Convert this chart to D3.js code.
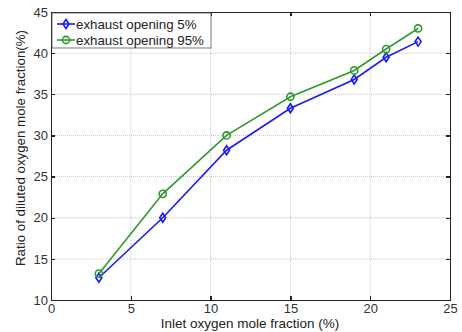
<!DOCTYPE html>
<html>
<head>
<meta charset="utf-8">
<script src="https://cdn.jsdelivr.net/npm/d3@7"></script>
<style>
  body { margin: 0; background: #fff; }
  text { font-family: "Liberation Sans", Arial, Helvetica, sans-serif; }
</style>
</head>
<body>
<svg id="chart"></svg>
<script>

var inletO2 = [3, 7, 11, 15, 19, 21, 23];
var opening5 = [12.7, 20.0, 28.2, 33.3, 36.8, 39.5, 41.4];
var opening95 = [13.2, 22.9, 30.0, 34.7, 37.9, 40.5, 43.0];
var seriesNames = ["exhaust opening 5%", "exhaust opening 95%"];
var xTicks = [0, 5, 10, 15, 20, 25];
var yTicks = [10, 15, 20, 25, 30, 35, 40, 45];

var width = 462,
	height = 332,
	margin = {top: 12, right: 12, bottom: 32, left: 51};

var svg = d3.select("#chart")
	.attr("width", width)
	.attr("height", height)

var w = width - margin.left - margin.right,
	h = height - margin.top - margin.bottom;

var x = d3.scaleLinear().domain([0, 25]).range([0, w]);
var y = d3.scaleLinear().domain([10, 45]).range([h, 0]);

var g = svg.append("g")
	.attr("transform", "translate(" + margin.left + "," + margin.top + ")");

// grid, dotted like matlab
g.selectAll("line.vgrid")
	.data(xTicks.slice(1, -1))
	.enter().append("line")
	.attr("class", "vgrid")
	.attr("x1", function(d) { return x(d); })
	.attr("x2", function(d) { return x(d); })
	.attr("y1", 0)
	.attr("y2", h)
	.style("stroke", "#c8c8c8")
	.style("stroke-width", 1)
	.style("stroke-dasharray", "1,1")

g.selectAll("line.hgrid")
	.data(yTicks.slice(1, -1))
	.enter().append("line")
	.attr("class", "hgrid")
	.attr("x1", 0)
	.attr("x2", w)
	.attr("y1", function(d) { return y(d); })
	.attr("y2", function(d) { return y(d); })
	.style("stroke", "#c8c8c8")
	.style("stroke-width", 1)
	.style("stroke-dasharray", "1,1")

// axes with inward ticks on all four sides
var xAxis = d3.axisBottom(x).tickValues(xTicks).tickSizeInner(-4).tickSizeOuter(0).tickPadding(4);
var yAxis = d3.axisLeft(y).tickValues(yTicks).tickSizeInner(-4).tickSizeOuter(0).tickPadding(3);

g.append("g")
	.attr("class", "axis")
	.attr("transform", "translate(0," + h + ")")
	.call(xAxis);

g.append("g")
	.attr("class", "axis")
	.call(yAxis);

g.append("g")
	.attr("class", "axis")
	.call(d3.axisTop(x).tickValues(xTicks).tickSizeInner(-4).tickSizeOuter(0).tickFormat(""));

g.append("g")
	.attr("class", "axis")
	.attr("transform", "translate(" + w + ",0)")
	.call(d3.axisRight(y).tickValues(yTicks).tickSizeInner(-4).tickSizeOuter(0).tickFormat(""));

g.selectAll(".axis path, .axis line")
	.style("stroke", "#222")
	.style("stroke-width", 1.3)
	.style("shape-rendering", "crispEdges")

g.selectAll(".axis text")
	.style("font-size", "13px")
	.style("fill", "#333")
	.style("font-family", "'Liberation Sans', Arial, Helvetica")

// series
var series = [
	{name: seriesNames[0], values: opening5, color: "#1a1aff", marker: "diamond"},
	{name: seriesNames[1], values: opening95, color: "#2f9a2f", marker: "circle"}
];

var line = d3.line()
	.x(function(d) { return x(d[0]); })
	.y(function(d) { return y(d[1]); });

function drawMarker(sel, s, cx, cy) {
	if (s.marker == "circle") {
		sel.append("circle")
			.attr("cx", cx)
			.attr("cy", cy)
			.attr("r", 3.6)
			.style("fill", "none")
			.style("stroke", s.color)
			.style("stroke-width", 1.6)
	} else {
		sel.append("path")
			.attr("d", "M" + cx + "," + (cy - 4.5) + "L" + (cx + 3) + "," + cy + "L" + cx + "," + (cy + 4.5) + "L" + (cx - 3) + "," + cy + "Z")
			.style("fill", "none")
			.style("stroke", s.color)
			.style("stroke-width", 1.6)
	}
}

series.forEach(function(s) {
	var pts = inletO2.map(function(v, i) { return [v, s.values[i]]; });
	g.append("path")
		.attr("d", line(pts))
		.style("fill", "none")
		.style("stroke", s.color)
		.style("stroke-width", 1.6)
	pts.forEach(function(p) {
		drawMarker(g, s, x(p[0]), y(p[1]));
	})
})

// legend
var legend = g.append("g").attr("transform", "translate(1,1)");

legend.append("rect")
	.attr("width", 159)
	.attr("height", 35)
	.style("fill", "#fff")
	.style("stroke", "#555")
	.style("stroke-width", 0.8)

series.forEach(function(s, i) {
	var ly = 11 + i * 16;
	legend.append("line")
		.attr("x1", 5)
		.attr("x2", 23)
		.attr("y1", ly)
		.attr("y2", ly)
		.style("stroke", s.color)
		.style("stroke-width", 1.6)
	drawMarker(legend, s, 14, ly);
	legend.append("text")
		.attr("x", 24)
		.attr("y", ly)
		.attr("dy", "0.35em")
		.style("font-size", "13.3px")
		.style("fill", "#222")
		.text(s.name)
})

// axis titles
svg.append("text")
	.attr("x", 250)
	.attr("y", 328)
	.style("text-anchor", "middle")
	.style("font-size", "13.5px")
	.style("fill", "#222")
	.text("Inlet oxygen mole fraction (%)")

svg.append("text")
	.attr("transform", "translate(25,148) rotate(-90)")
	.attr("textLength", 236)
	.attr("lengthAdjust", "spacingAndGlyphs")
	.style("text-anchor", "middle")
	.style("font-size", "13px")
	.style("fill", "#222")
	.text("Ratio of diluted oxygen mole fraction(%)")

</script>
</body>
</html>
